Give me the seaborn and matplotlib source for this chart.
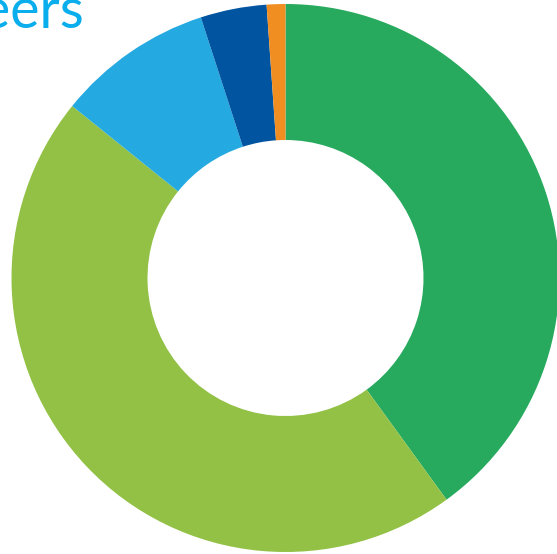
import matplotlib
matplotlib.use("Agg")
import matplotlib.pyplot as plt
import seaborn as sns

# Share of each group (percent), clockwise from 12 o'clock
categories = ["Group A", "Group B", "Group C", "Group D", "Group E"]
shares = [40.0, 45.8, 9.2, 3.9, 1.1]
colors = ["#27AA5E", "#92C145", "#24A9E1", "#0054A0", "#F18E22"]
title_text = "Careers"

sns.set_theme(style="white")
plt.rcParams["font.family"] = ["Lato", "DejaVu Sans"]

W, H = 557, 554
fig = plt.figure(figsize=(W / 100, H / 100), dpi=100)
ax = fig.add_axes([0, 0, 1, 1])

cx, cy, R = 285.5, 278.0, 274.0
ax.pie(
    shares,
    colors=colors,
    startangle=90,
    counterclock=False,
    radius=1.0,
    wedgeprops=dict(width=1.0 - 138.0 / R, linewidth=0),
)
ax.set_xlim(-cx / R, (W - cx) / R)
ax.set_ylim((cy - H) / R, cy / R)
ax.set_aspect("equal")
ax.axis("off")

fig.text(84 / W, (H - 28) / H, title_text, ha="right", va="baseline",
         fontsize=40, fontweight="normal", color="#0AAEEC")

fig.savefig("out.png", dpi=100, facecolor="white")
